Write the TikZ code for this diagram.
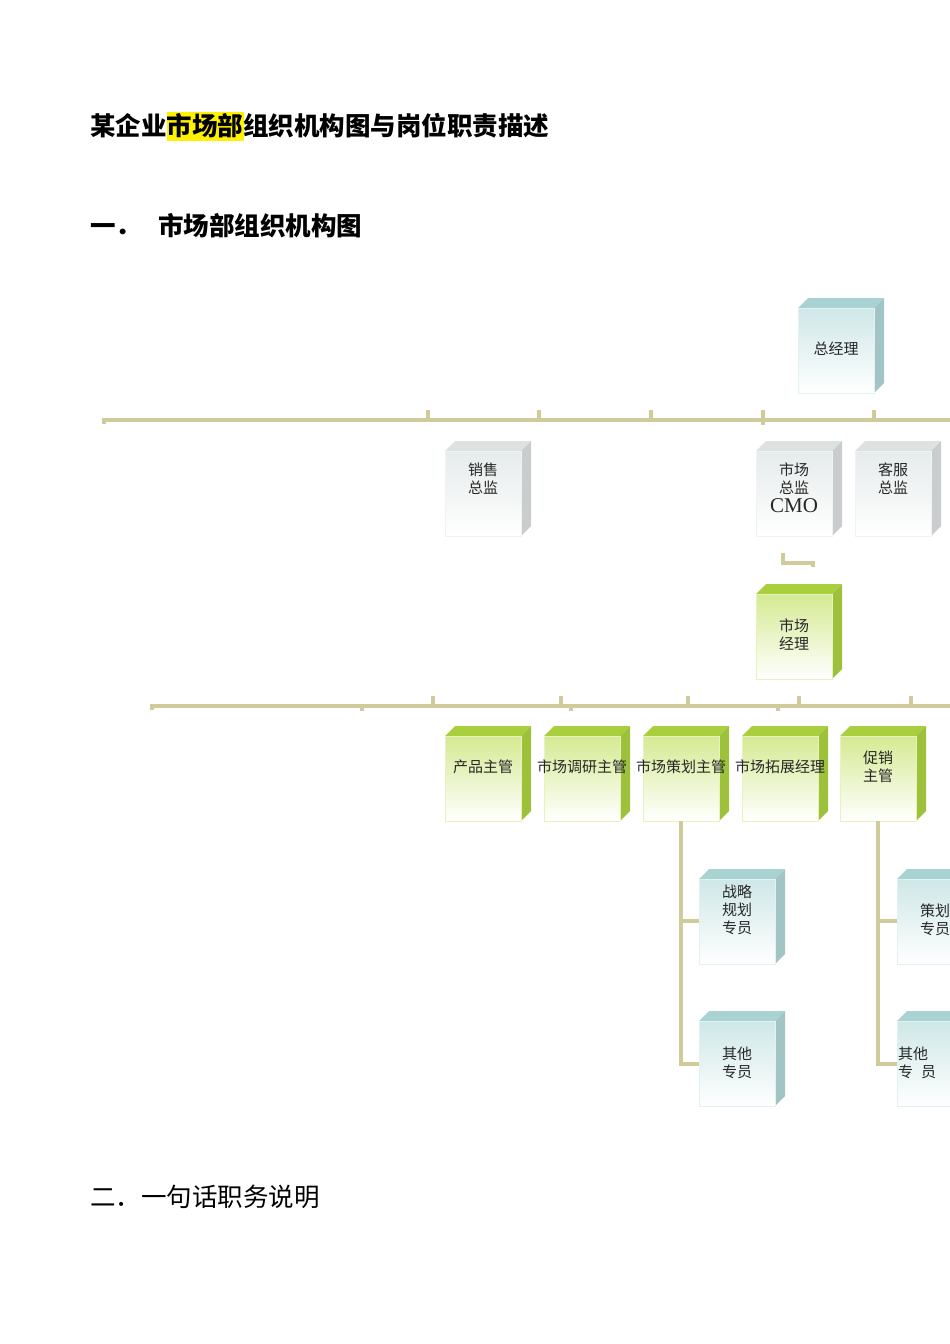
\documentclass[tikz,border=0pt]{standalone}
\usepackage{fontspec}
\setmainfont{Liberation Serif}
\newfontfamily\cjk{Noto Sans CJK SC}
\usetikzlibrary{fit,calc}
\definecolor{bus}{HTML}{CFCB9B}
\definecolor{tealtop}{HTML}{A9D2D2}\definecolor{tealside}{HTML}{A2C4C4}\definecolor{tealfront}{HTML}{CFE7E7}
\definecolor{greytop}{HTML}{DCE1E1}\definecolor{greyside}{HTML}{C9CDCD}\definecolor{greyfront}{HTML}{E6EBEB}
\definecolor{greentop}{HTML}{A9CF3E}\definecolor{greenside}{HTML}{9DC13A}\definecolor{greenfront}{HTML}{D5EA92}
\tikzset{busline/.style={draw=bus,line width=3.5pt},
 lbl/.style={anchor=north,align=center,inner sep=0,font=\cjk\fontsize{15}{18}\selectfont,text=black!85}}
\newcommand\cubebox[6]{% name,x1,y1,x2,y2,scheme
 \fill[#6top] (#2,#3) -- (#2+10,#3-10) -- (#4+10,#3-10) -- (#4,#3) -- cycle;
 \fill[#6side] (#4,#3) -- (#4+10,#3-10) -- (#4+10,#5-10) -- (#4,#5) -- cycle;
 \shade[top color=#6front,bottom color=white] (#2,#3) rectangle (#4,#5);
 \draw[#6front!60!white,line width=0.5pt] (#2,#3) rectangle (#4,#5);
 \node[fit={(#2,#3)(#4,#5)},inner sep=0] (#1) {};}
\begin{document}
\begin{tikzpicture}[x=1pt,y=-1pt]
\useasboundingbox (0,0) rectangle (950,1344);
\clip (0,0) rectangle (950,1344);
% titles
\fill[yellow] (166.5,112) rectangle (243.5,141);
\node[anchor=west,inner sep=0,font=\cjk\fontsize{25.5}{28}\selectfont\bfseries] (title) at (90,126) {某企业市场部组织机构图与岗位职责描述};
\node[anchor=west,inner sep=0,font=\cjk\fontsize{25.5}{28}\selectfont\bfseries] (sec1) at (90,226) {一．\hspace{17pt}市场部组织机构图};
\node[anchor=west,inner sep=0,font=\cjk\fontsize{25.5}{28}\selectfont] (sec2) at (90,1197) {二．一句话职务说明};
% top bus
\draw[busline] (104,424) -- (104,420) -- (960,420);
\foreach \x in {428,539,651,763,874} \draw[busline] (\x,410) -- (\x,420);
\draw[busline] (763,420) -- (763,425);
% boxes level 1
\cubebox{gm}{798}{308}{874}{393}{teal}
\node[lbl] at ($(gm.north)+(0,34)$) {总经理};
\cubebox{sales}{445}{451}{521}{536}{grey}
\node[lbl] at ($(sales.north)+(0,12)$) {销售\\总监};
\cubebox{cmo}{756}{451}{832}{536}{grey}
\node[lbl] at ($(cmo.north)+(0,12)$) {市场\\总监\\[1pt]{\rmfamily\fontsize{21}{22}\selectfont CMO}};
\cubebox{cs}{855}{451}{931}{536}{grey}
\node[lbl] at ($(cs.north)+(0,12)$) {客服\\总监};
% small connector
\draw[busline] (783,553) -- (783,563) -- (813,563) -- (813,567);
\cubebox{mm}{756}{594}{832}{679}{green}
\node[lbl] at ($(mm.north)+(0,25)$) {市场\\经理};
% second bus
\draw[busline] (152,710) -- (152,706) -- (960,706);
\foreach \x in {433,561,688,799,911} \draw[busline] (\x,696) -- (\x,706);
\foreach \x in {362,571,778} \draw[busline] (\x,706) -- (\x,711);
% level 3
\cubebox{prod}{445}{736}{521}{821}{green}
\cubebox{res}{544}{736}{620}{821}{green}
\cubebox{plan}{643}{736}{719}{821}{green}
\cubebox{ext}{742}{736}{818}{821}{green}
\cubebox{promo}{840}{736}{916}{821}{green}
\node[lbl] at ($(prod.north)+(0,24)$) {产品主管};
\node[lbl] at ($(res.north)+(0,24)$) {市场调研主管};
\node[lbl] at ($(plan.north)+(0,24)$) {市场策划主管};
\node[lbl] at ($(ext.north)+(0,24)$) {市场拓展经理};
\node[lbl] at ($(promo.north)+(0,15)$) {促销\\主管};
% level 4
\cubebox{strat}{699}{879}{775}{964}{teal}
\node[lbl] at ($(strat.north)+(0,6)$) {战略\\规划\\专员};
\cubebox{oth1}{699}{1021}{775}{1106}{teal}
\node[lbl] at ($(oth1.north)+(0,26)$) {其他\\专员};
\cubebox{pspec}{897}{879}{973}{964}{teal}
\node[lbl] at ($(pspec.north)+(0,25)$) {策划\\专员};
\cubebox{oth2}{897}{1021}{973}{1106}{teal}
\node[lbl,anchor=north west,align=left] at ($(oth2.north west)+(1,26)$) {其他\\专\hspace{8pt}员};
% verticals
\draw[busline] (plan.south -| 681,0) -- (681,1064) -- (oth1.west |- 0,1064);
\draw[busline] (681,921) -- (strat.west |- 0,921);
\draw[busline] (promo.south -| 878,0) -- (878,1064) -- (oth2.west |- 0,1064);
\draw[busline] (878,921) -- (pspec.west |- 0,921);
\end{tikzpicture}
\end{document}
